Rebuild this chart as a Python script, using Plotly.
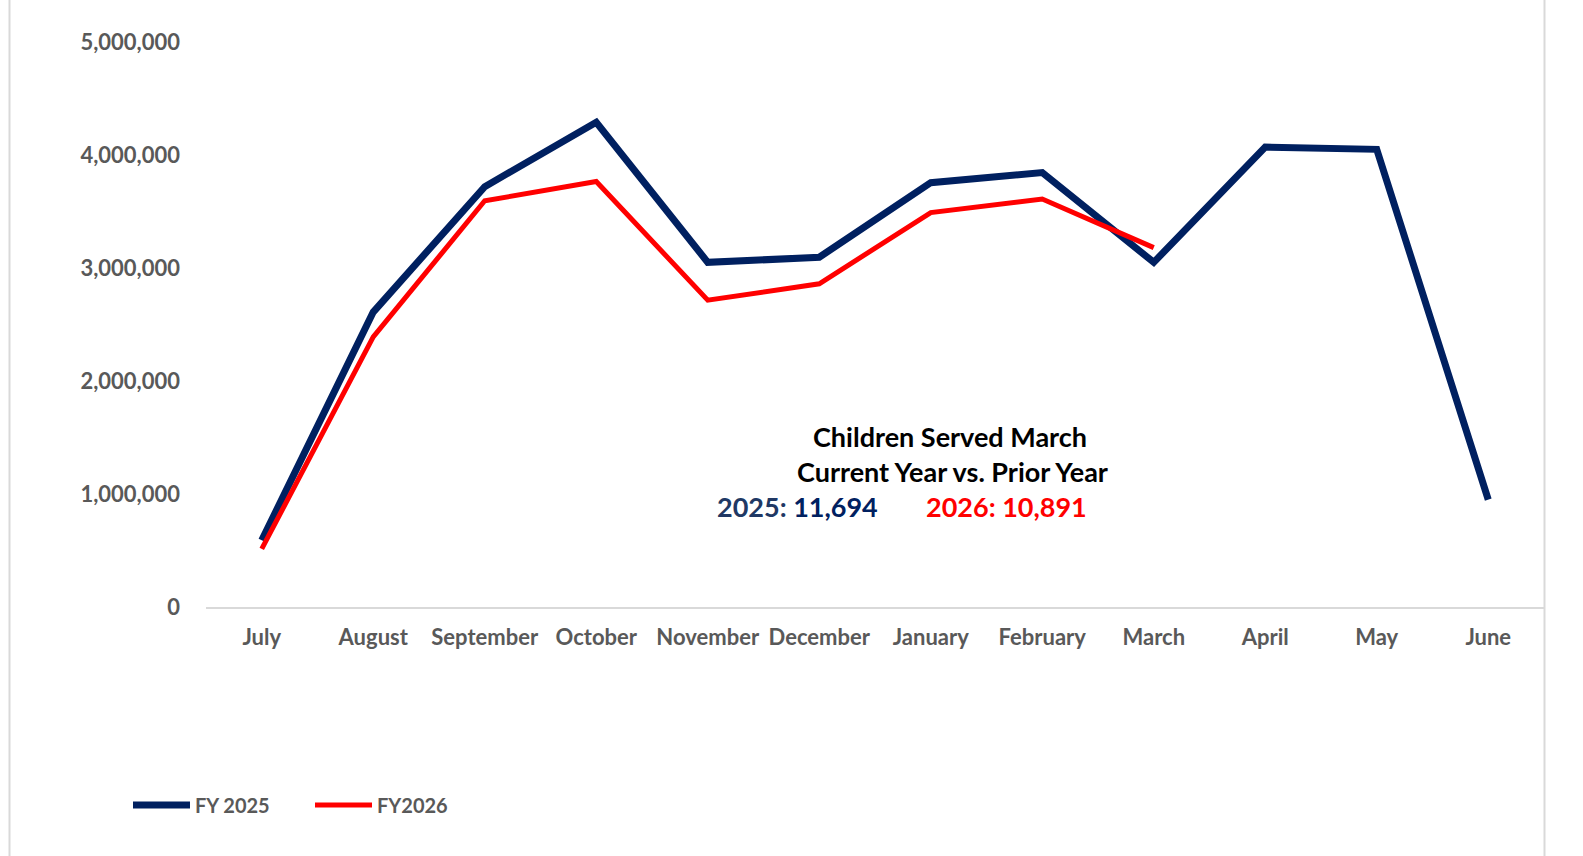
import plotly.graph_objects as go

months = ["July", "August", "September", "October", "November", "December",
          "January", "February", "March", "April", "May", "June"]
fy2025 = [590000, 2610000, 3720000, 4290000, 3050000, 3095000,
          3755000, 3845000, 3050000, 4070000, 4050000, 950000]
fy2026 = [515000, 2390000, 3595000, 3765000, 2715000, 2860000,
          3490000, 3610000, 3180000]
ytick_vals = [0, 1000000, 2000000, 3000000, 4000000, 5000000]
ytick_text = ["0", "1,000,000", "2,000,000", "3,000,000", "4,000,000", "5,000,000"]

NAVY = "#002060"
RED = "#FF0000"
GRAY = "#595959"
FONT = "Lato"

W, H = 1583, 856
L, R, T, B = 206, 39, 42, 249

fig = go.Figure()
fig.add_trace(go.Scatter(x=months, y=fy2025, mode="lines", name="FY 2025",
                         line=dict(color=NAVY, width=7)))
fig.add_trace(go.Scatter(x=months[:len(fy2026)], y=fy2026, mode="lines", name="FY2026",
                         line=dict(color=RED, width=5)))

pw = W - L - R
ph = H - T - B

def px(x):
    return (x - L) / pw

def py(y):
    return (H - B - y) / ph

ann = [
    dict(text="Children Served March", x=px(950), y=py(436), color="#000000", size=27),
    dict(text="Current Year vs. Prior Year", x=px(953), y=py(471), color="#000000", size=27),
    dict(text="<span style='color:#203864'>2025:</span> 11,694", x=px(797), y=py(507), color=NAVY, size=27),
    dict(text="2026: 10,891", x=px(1006), y=py(507), color=RED, size=27),
]
for a in ann:
    fig.add_annotation(text=a["text"], x=a["x"], y=a["y"], xref="paper", yref="paper",
                       xanchor="center", yanchor="middle", showarrow=False,
                       font=dict(family=FONT, size=a["size"], color=a["color"], weight=700))

# chart area border lines (left and right)
fig.add_shape(type="line", xref="paper", yref="paper", x0=px(9.5), x1=px(9.5), y0=py(0), y1=py(H),
              line=dict(color="#d9d9d9", width=2))
fig.add_shape(type="line", xref="paper", yref="paper", x0=px(1544.5), x1=px(1544.5), y0=py(0), y1=py(H),
              line=dict(color="#d9d9d9", width=2))

fig.update_layout(
    width=W, height=H,
    margin=dict(l=L, r=R, t=T, b=B),
    paper_bgcolor="white", plot_bgcolor="white",
    font=dict(family=FONT, color=GRAY, size=22, weight=700),
    showlegend=True,
    legend=dict(orientation="h", x=px(128), y=py(805), xanchor="left", yanchor="middle",
                font=dict(family=FONT, size=20, color=GRAY, weight=700),
                itemwidth=57, entrywidth=110, entrywidthmode="pixels",
                bgcolor="rgba(0,0,0,0)"),
)
fig.update_xaxes(type="category", range=[-0.5, 11.5], showgrid=False, showline=True,
                 linecolor="#d9d9d9", linewidth=2, ticks="", zeroline=False,
                 tickfont=dict(family=FONT, size=22, color=GRAY, weight=700),
                 ticklabelstandoff=10, fixedrange=True)
fig.update_yaxes(range=[0, 5000000], showgrid=False, showline=False, zeroline=False,
                 tickvals=ytick_vals, ticktext=ytick_text, ticks="",
                 tickfont=dict(family=FONT, size=22, color=GRAY, weight=700),
                 ticklabelstandoff=25, fixedrange=True)

fig.write_html("out.html", config={"displayModeBar": False},
               post_script="document.body.style.margin='0';")
